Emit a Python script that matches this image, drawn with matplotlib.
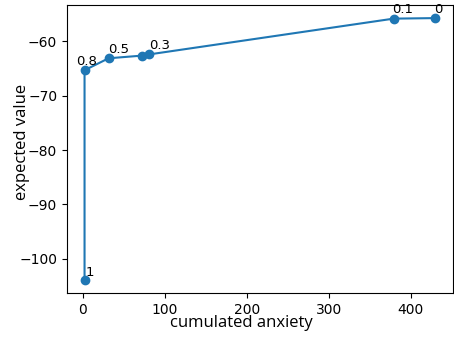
import matplotlib
matplotlib.use("Agg")
import matplotlib.pyplot as plt

anxiety = [2.4, 2.4, 31.7, 73.0, 80.5, 379.0, 430.0]
expected = [-103.9, -65.3, -63.1, -62.6, -62.4, -55.8, -55.7]
labels = ["1", "0.8", "0.5", "", "0.3", "0.1", "0"]

fig = plt.figure(figsize=(4.54, 3.37), dpi=100)
ax = fig.add_axes([67/454, 1 - 293/337, (453 - 67)/454, (293 - 5)/337])
ax.plot(anxiety, expected, marker="o", color="#1f77b4", markersize=6)
offsets = {"1": (1, 3), "0.8": (-6, 4), "0.5": (0, 4), "0.3": (0, 4), "0.1": (-1, 4), "0": (-1, 4)}
for x, y, lab in zip(anxiety, expected, labels):
    if lab:
        ax.annotate(lab, (x, y), xytext=offsets[lab], textcoords="offset points", fontsize=9.5)
ax.set_xlabel("cumulated anxiety", fontsize=12, family=["Open Sans", "DejaVu Sans"])
ax.set_ylabel("expected value", fontsize=12, family=["Open Sans", "DejaVu Sans"])
ax.xaxis.set_label_coords(0.453, -0.078)
ax.yaxis.set_label_coords(-0.095, 0.524)
ax.set_xticks([0, 100, 200, 300, 400])
ax.set_yticks([-100, -90, -80, -70, -60])
fig.savefig("out.png", dpi=100)
